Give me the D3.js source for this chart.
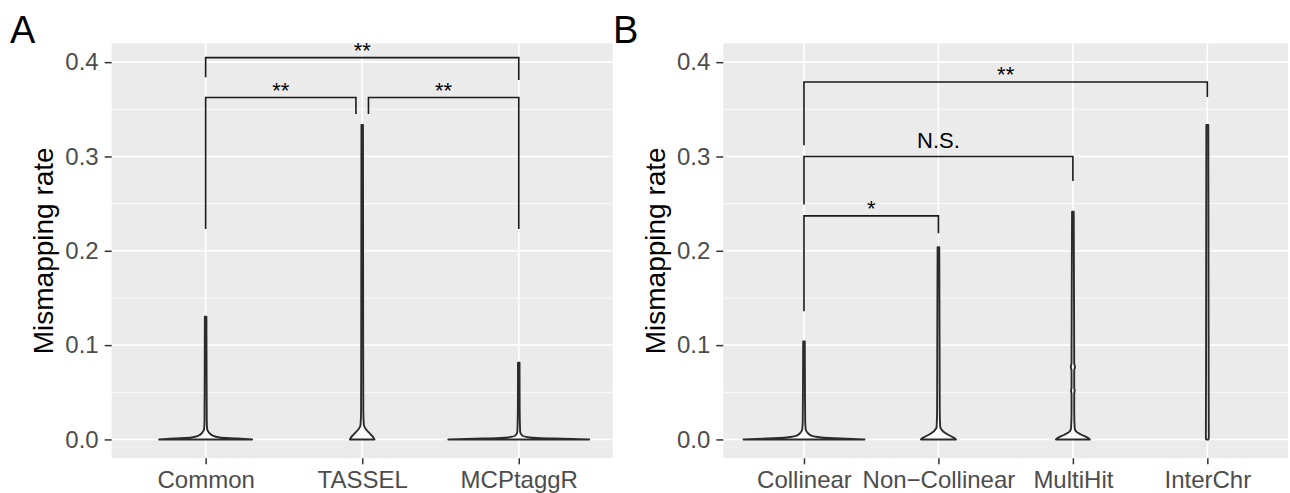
<!DOCTYPE html>
<html><head><meta charset="utf-8">
<script src="https://cdn.jsdelivr.net/npm/d3@7"></script>
<style>
html,body{margin:0;padding:0;background:#fff;}
text{font-family:"Liberation Sans",Arial,Helvetica,sans-serif;}
</style></head>
<body><svg id="chart" width="1290" height="493"></svg>
<script>
// ---------------- data ----------------
const categoriesA = ["Common", "TASSEL", "MCPtaggR"];
const categoriesB = ["Collinear", "Non\u2212Collinear", "MultiHit", "InterChr"];
const yTicks = [0, 0.1, 0.2, 0.3, 0.4];
const yMinorTicks = [0.05, 0.15, 0.25, 0.35];
const yDomain = [-0.02, 0.42];

// violin outlines: [value, relative half-width] (1 = widest violin)
const violinCommon   = [[0,0.66],[0.001,0.45],[0.0022,0.2],[0.004,0.1],[0.007,0.05],[0.011,0.022],[0.02,0.016],[0.06,0.014],[0.13,0.011]];
const violinTassel   = [[0,0.175],[0.003,0.15],[0.007,0.1],[0.011,0.05],[0.015,0.024],[0.03,0.016],[0.1,0.014],[0.3335,0.011]];
const violinMcp      = [[0,1.0],[0.001,0.5],[0.0022,0.15],[0.004,0.05],[0.008,0.02],[0.03,0.013],[0.0813,0.011]];
const violinCollinear= [[0,1.0],[0.001,0.6],[0.0022,0.28],[0.004,0.12],[0.007,0.06],[0.011,0.028],[0.02,0.02],[0.05,0.017],[0.104,0.013]];
const violinNonCol   = [[0,0.29],[0.002,0.25],[0.005,0.16],[0.009,0.07],[0.013,0.03],[0.03,0.022],[0.1,0.019],[0.2037,0.014]];
const violinMultiHit = [[0,0.28],[0.002,0.24],[0.005,0.14],[0.008,0.06],[0.012,0.03],[0.03,0.022],[0.048,0.022],[0.0515,0.03],[0.055,0.022],[0.073,0.022],[0.077,0.034],[0.081,0.022],[0.15,0.019],[0.2415,0.014]];
const violinInterChr = [[0,0.02],[0.002,0.024],[0.05,0.022],[0.2,0.019],[0.3335,0.016]];

const violinsA = [violinCommon, violinTassel, violinMcp];
const violinsB = [violinCollinear, violinNonCol, violinMultiHit, violinInterChr];

// significance brackets: from, to, x offsets (in category units), bar value, left tip end, right tip end, label, label value
const bracketsA = [
  {from:"Common", to:"TASSEL", off1:0, off2:-0.04, y:0.3625, tip1:0.223, tip2:0.345, label:"**", ly:0.3625},
  {from:"TASSEL", to:"MCPtaggR", off1:0.04, off2:0, y:0.3625, tip1:0.345, tip2:0.223, label:"**", ly:0.3625},
  {from:"Common", to:"MCPtaggR", off1:0, off2:0, y:0.4048, tip1:0.384, tip2:0.381, label:"**", ly:0.4048}
];
const bracketsB = [
  {from:"Collinear", to:"InterChr", off1:0, off2:0, y:0.379, tip1:0.312, tip2:0.363, label:"**", ly:0.379},
  {from:"Collinear", to:"MultiHit", off1:0, off2:0, y:0.300, tip1:0.249, tip2:0.274, label:"N.S.", ly:0.3088},
  {from:"Collinear", to:"Non\u2212Collinear", off1:0, off2:0, y:0.237, tip1:0.136, tip2:0.2185, label:"*", ly:0.237}
];

// ---------------- drawing ----------------
const svg = d3.select("#chart");
const plotTop = 43.3, plotBottom = 458.3;

function panel(opts){
  const {left, right, cats, violins, brackets, tag, tagX, titleX} = opts;
  const g = svg.append("g");
  const x = d3.scalePoint().domain(cats).range([left, right]).padding(0.6);
  const y = d3.scaleLinear().domain(yDomain).range([plotBottom, plotTop]);
  const step = x.step();
  const wScale = d3.scaleLinear().domain([0,1]).range([0, 0.45*step]);

  g.append("rect").attr("x", left).attr("y", plotTop).attr("width", right-left).attr("height", plotBottom-plotTop).attr("fill", "#EBEBEB");
  g.selectAll(".ymin").data(yMinorTicks).join("line")
    .attr("x1", left).attr("x2", right).attr("y1", d=>y(d)).attr("y2", d=>y(d))
    .attr("stroke", "#fff").attr("stroke-width", 0.8);
  g.selectAll(".ymaj").data(yTicks).join("line")
    .attr("x1", left).attr("x2", right).attr("y1", d=>y(d)).attr("y2", d=>y(d))
    .attr("stroke", "#fff").attr("stroke-width", 1.6);
  g.selectAll(".xmaj").data(cats).join("line")
    .attr("x1", d=>x(d)).attr("x2", d=>x(d)).attr("y1", plotTop).attr("y2", plotBottom)
    .attr("stroke", "#fff").attr("stroke-width", 1.6);

  cats.forEach((c, i) => {
    const cx = x(c);
    const area = d3.area()
      .y(d => y(d[0]))
      .x0(d => cx - wScale(d[1]))
      .x1(d => cx + wScale(d[1]))
      .curve(d3.curveMonotoneY);
    g.append("path").datum(violins[i]).attr("d", area)
      .attr("fill", "#fff").attr("stroke", "#2b2b2b").attr("stroke-width", 1.9)
      .attr("stroke-linejoin", "round");
  });

  brackets.forEach(b => {
    const x1 = x(b.from) + b.off1*step, x2 = x(b.to) + b.off2*step;
    const path = d3.path();
    path.moveTo(x1, y(b.tip1)); path.lineTo(x1, y(b.y)); path.lineTo(x2, y(b.y)); path.lineTo(x2, y(b.tip2));
    g.append("path").attr("d", path.toString()).attr("fill", "none")
      .attr("stroke", "#1a1a1a").attr("stroke-width", 1.6);
    g.append("text").attr("x", (x1+x2)/2).attr("y", y(b.ly)).attr("text-anchor", "middle")
      .attr("font-size", 22).attr("fill", "#000").text(b.label);
  });

  const ya = g.append("g").attr("transform", `translate(${left},0)`)
    .call(d3.axisLeft(y).tickValues(yTicks).tickFormat(d3.format(".1f")).tickSize(7).tickPadding(6));
  ya.select(".domain").remove();
  ya.selectAll(".tick line").attr("stroke", "#333333").attr("stroke-width", 1.5);
  ya.selectAll(".tick text").attr("font-size", 24).attr("fill", "#4D4D4D")
    .style("font-family", '"Liberation Sans",Arial,sans-serif');

  const xa = g.append("g").attr("transform", `translate(0,${plotBottom})`)
    .call(d3.axisBottom(x).tickSize(6).tickPadding(6.5));
  xa.select(".domain").remove();
  xa.selectAll(".tick line").attr("stroke", "#333333").attr("stroke-width", 1.5);
  xa.selectAll(".tick text").attr("font-size", 24).attr("fill", "#4D4D4D")
    .style("font-family", '"Liberation Sans",Arial,sans-serif');

  g.append("text").attr("transform", `translate(${titleX},${(plotTop+plotBottom)/2}) rotate(-90)`)
    .attr("text-anchor", "middle").attr("font-size", 28).attr("fill", "#000").text("Mismapping rate");

  g.append("text").attr("x", tagX).attr("y", 43).attr("font-size", 38).attr("fill", "#000").text(tag);
}

panel({left:111.7, right:612.7, cats:categoriesA, violins:violinsA, brackets:bracketsA, tag:"A", tagX:10, titleX:53});
panel({left:723.3, right:1288, cats:categoriesB, violins:violinsB, brackets:bracketsB, tag:"B", tagX:613, titleX:664.6});
</script>
</body></html>
